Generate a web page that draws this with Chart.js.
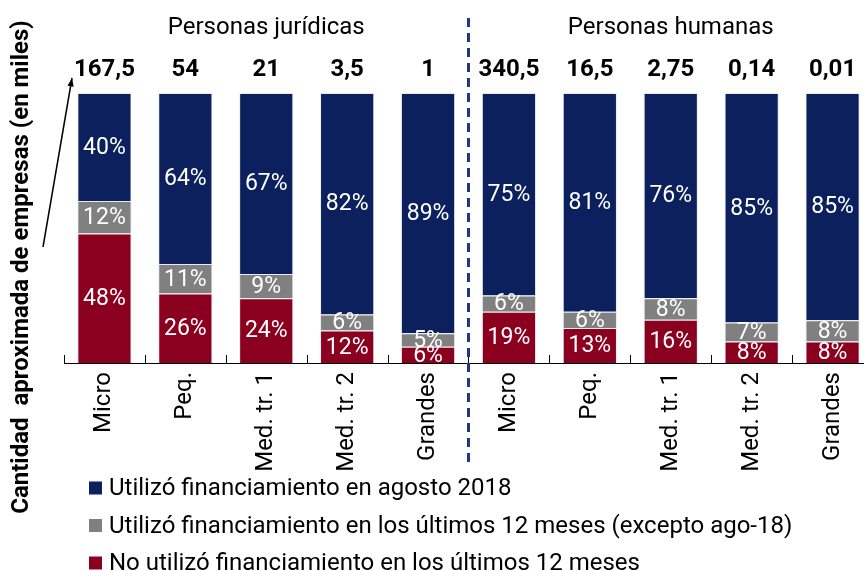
<!DOCTYPE html>
<html lang="es">
<head>
<meta charset="utf-8">
<script src="https://cdn.jsdelivr.net/npm/chart.js@4/dist/chart.umd.min.js"></script>
<style>
  html, body { margin: 0; padding: 0; background: #fff; overflow: hidden; }
  #contenedor { width: 880px; height: 571px; }
</style>
</head>
<body>
<div id="contenedor"><canvas id="grafico"></canvas></div>
<script>
// datos del grafico
const categorias = ["Micro", "Peq.", "Med. tr. 1", "Med. tr. 2", "Grandes", "Micro", "Peq.", "Med. tr. 1", "Med. tr. 2", "Grandes"];
const grupos = ["Personas jurídicas", "Personas humanas"];
const cantidadEmpresas = [167.5, 54, 21, 3.5, 1, 340.5, 16.5, 2.75, 0.14, 0.01];
const noUtilizo = [48, 26, 24, 12, 6, 19, 13, 16, 8, 8];
const utilizoUltimos12 = [12, 11, 9, 6, 5, 6, 6, 8, 7, 8];
const utilizoAgosto = [40, 64, 67, 82, 89, 75, 81, 76, 85, 85];
const nombresSeries = [
  "No utilizó financiamiento en los últimos 12 meses",
  "Utilizó financiamiento en los últimos 12 meses (excepto ago-18)",
  "Utilizó financiamiento en agosto 2018"
];
const tituloEje = "Cantidad  aproximada de empresas (en miles)";

const colores = ['#8B001F', '#808080', '#0B205C'];

document.addEventListener("DOMContentLoaded", () => {
  Chart.defaults.font.family = 'Roboto';
  const lienzo = document.querySelector("#grafico");

  const series = [noUtilizo, utilizoUltimos12, utilizoAgosto];
  const totales = categorias.map((c, i) => series.reduce((s, arr) => s + arr[i], 0));

  const dibujoExtra = {
    id: 'dibujoExtra',
    afterDraw(chart) {
      const ctx = chart.ctx;
      const area = chart.chartArea;
      const ejeX = chart.scales.x;
      const paso = ejeX.getPixelForValue(1) - ejeX.getPixelForValue(0);

      // porcentajes dentro de las barras
      ctx.save();
      ctx.beginPath();
      ctx.rect(area.left, area.top, area.right - area.left, area.bottom - area.top);
      ctx.clip();
      ctx.fillStyle = '#fff';
      ctx.font = '23px Roboto';
      ctx.textAlign = 'center';
      ctx.textBaseline = 'middle';
      chart.data.datasets.forEach((ds, d) => {
        chart.getDatasetMeta(d).data.forEach((barra, i) => {
          ctx.fillText(ds.valores[i] + '%', barra.x, (barra.y + barra.base) / 2 + 1);
        });
      });
      ctx.restore();

      ctx.save();
      // marcas del eje x hacia adentro
      ctx.strokeStyle = '#000';
      ctx.lineWidth = 1;
      ctx.beginPath();
      for (let i = 0; i <= categorias.length; i++) {
        const px = Math.round(ejeX.getPixelForValue(0) - paso / 2 + i * paso) + 0.5;
        ctx.moveTo(px, area.bottom);
        ctx.lineTo(px, area.bottom - 8);
      }
      ctx.stroke();

      // cantidad de empresas arriba de cada barra
      ctx.fillStyle = '#000';
      ctx.font = 'bold 24px Roboto';
      ctx.textAlign = 'center';
      ctx.textBaseline = 'middle';
      cantidadEmpresas.forEach((n, i) => {
        ctx.fillText(String(n).replace('.', ','), ejeX.getPixelForValue(i), 70);
      });

      // titulos de grupo
      ctx.font = '24px Roboto';
      ctx.fillText(grupos[0], (ejeX.getPixelForValue(0) + ejeX.getPixelForValue(4)) / 2, 28);
      ctx.fillText(grupos[1], (ejeX.getPixelForValue(5) + ejeX.getPixelForValue(9)) / 2, 28);

      // linea divisoria
      const xDiv = (ejeX.getPixelForValue(4) + ejeX.getPixelForValue(5)) / 2;
      ctx.strokeStyle = '#1F3A7A';
      ctx.lineWidth = 3;
      ctx.setLineDash([9, 6]);
      ctx.beginPath();
      ctx.moveTo(xDiv, 18);
      ctx.lineTo(xDiv, 463);
      ctx.stroke();
      ctx.setLineDash([]);

      // flecha
      const x0 = 43, y0 = 247, x1 = area.left + 8, y1 = 78;
      ctx.strokeStyle = '#000';
      ctx.fillStyle = '#000';
      ctx.lineWidth = 1.5;
      ctx.beginPath();
      ctx.moveTo(x0, y0);
      ctx.lineTo(x1, y1);
      ctx.stroke();
      const ang = Math.atan2(y1 - y0, x1 - x0);
      ctx.beginPath();
      ctx.moveTo(x1, y1);
      ctx.lineTo(x1 - 9 * Math.cos(ang - 0.35), y1 - 9 * Math.sin(ang - 0.35));
      ctx.lineTo(x1 - 9 * Math.cos(ang + 0.35), y1 - 9 * Math.sin(ang + 0.35));
      ctx.closePath();
      ctx.fill();

      // titulo del eje vertical
      ctx.save();
      ctx.translate(22, 267);
      ctx.rotate(-Math.PI / 2);
      ctx.font = 'bold 24px Roboto';
      ctx.fillText(tituloEje, 0, 0);
      ctx.restore();

      // leyenda
      ctx.font = '24px Roboto';
      ctx.textAlign = 'left';
      const orden = [2, 1, 0];
      orden.forEach((d, fila) => {
        const ds = chart.data.datasets[d];
        const yc = 488 + fila * 37.5;
        ctx.fillStyle = ds.backgroundColor;
        ctx.fillRect(area.left + 25, yc - 6.5, 13, 13);
        ctx.fillStyle = '#000';
        ctx.fillText(ds.label, area.left + 45, yc + 1);
      });
      ctx.restore();
    }
  };

  new Chart(lienzo, {
    type: 'bar',
    data: {
      labels: categorias,
      datasets: series.map((arr, d) => ({
        label: nombresSeries[d],
        valores: arr,
        data: arr.map((v, i) => v / totales[i] * 100),
        backgroundColor: colores[d],
        borderColor: 'rgba(220,226,240,0.7)',
        borderWidth: 1,
        barPercentage: 0.67,
        categoryPercentage: 1
      }))
    },
    options: {
      responsive: true,
      maintainAspectRatio: false,
      animation: false,
      layout: { padding: { left: 64, right: 7, top: 93, bottom: 88 } },
      plugins: {
        legend: { display: false },
        tooltip: { enabled: false }
      },
      scales: {
        x: {
          stacked: true,
          offset: true,
          grid: { display: false, drawTicks: false },
          border: { display: true, color: '#000', width: 1 },
          ticks: {
            color: '#000',
            font: { size: 24 },
            minRotation: 90,
            maxRotation: 90,
            autoSkip: false,
            padding: 9
          },
          afterFit: (escala) => { escala.height = 120; }
        },
        y: {
          stacked: true,
          display: false,
          min: 0,
          max: 100
        }
      }
    },
    plugins: [dibujoExtra]
  });
});
</script>
</body>
</html>
